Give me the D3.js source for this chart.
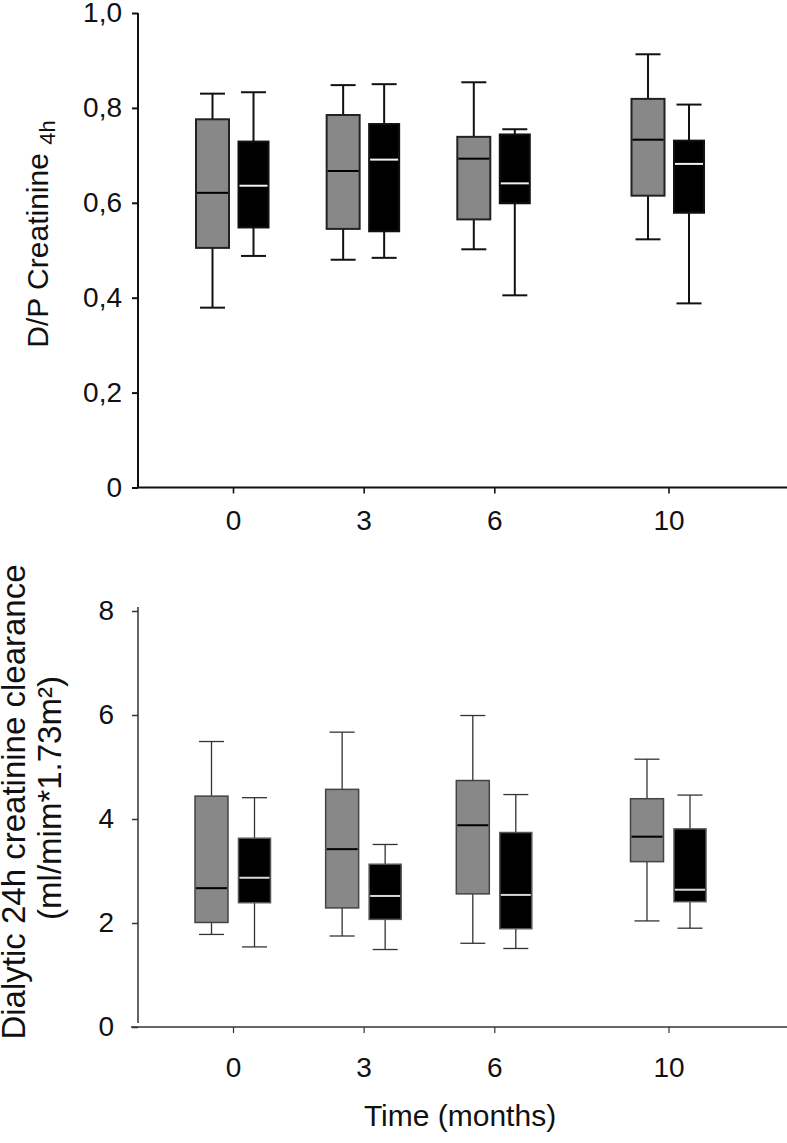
<!DOCTYPE html>
<html>
<head>
<meta charset="utf-8">
<script src="https://cdn.jsdelivr.net/npm/d3@7"></script>
<style>
  html, body { margin: 0; padding: 0; background: #fff; }
  svg { display: block; font-family: "Liberation Sans", Arial, sans-serif; }
</style>
</head>
<body>
<svg id="chart" width="787" height="1143"></svg>
<script>
// ---------------- data ----------------
const months = [0, 3, 6, 10];
const monthLabels = ["0", "3", "6", "10"];
const seriesNames = ["Group 1", "Group 2"];   // grey, black

// box stats: [min, q1, median, q3, max] per month
const dpGroup1 = [
  [0.379, 0.505, 0.621, 0.776, 0.830],
  [0.480, 0.545, 0.667, 0.785, 0.848],
  [0.502, 0.565, 0.693, 0.739, 0.854],
  [0.523, 0.615, 0.733, 0.819, 0.913]
];
const dpGroup2 = [
  [0.488, 0.548, 0.636, 0.729, 0.833],
  [0.484, 0.540, 0.691, 0.766, 0.850],
  [0.405, 0.599, 0.641, 0.744, 0.755],
  [0.388, 0.579, 0.682, 0.731, 0.807]
];
const clGroup1 = [
  [1.78, 2.01, 2.67, 4.44, 5.49],
  [1.75, 2.29, 3.42, 4.57, 5.67],
  [1.61, 2.56, 3.88, 4.74, 5.99],
  [2.04, 3.18, 3.66, 4.39, 5.15]
];
const clGroup2 = [
  [1.54, 2.39, 2.87, 3.63, 4.41],
  [1.49, 2.07, 2.52, 3.13, 3.51],
  [1.51, 1.89, 2.54, 3.74, 4.47],
  [1.90, 2.41, 2.64, 3.81, 4.46]
];
const dpTicks = [0, 0.2, 0.4, 0.6, 0.8, 1.0];
const clTicks = [0, 2, 4, 6, 8];

// ---------------- drawing ----------------
const svg = d3.select("#chart");
const commaFmt = d => d === 0 ? "0" : d3.format(".1f")(d).replace(".", ",");
const FONT = "Liberation Sans, Arial, sans-serif";

function panel(cfg) {
  const g = svg.append("g");
  const x = d3.scaleLinear().domain([0, 10]).range([233, 668.5]);
  const y = d3.scaleLinear().domain(cfg.yDomain).range([cfg.yBottom, cfg.yTop]);
  const off = d3.scaleBand().domain(seriesNames).range([-cfg.spread, cfg.spread]);

  // y axis
  const ya = g.append("g").attr("transform", `translate(${cfg.axisX},0)`)
    .call(d3.axisLeft(y).tickValues(cfg.ticks).tickFormat(cfg.fmt)
      .tickSize(6).tickPadding(cfg.yPad).tickSizeOuter(0));
  ya.select(".domain").remove();
  ya.selectAll(".tick line").attr("stroke", cfg.axisColor).attr("stroke-width", cfg.axisW);
  ya.selectAll(".tick text").attr("font-size", 28).attr("fill", "#111").attr("font-family", FONT);
  g.append("line")
    .attr("x1", cfg.axisX).attr("x2", cfg.axisX)
    .attr("y1", y(cfg.yDomain[1]) - cfg.yExtTop).attr("y2", y(0) - cfg.yGapBottom)
    .attr("stroke", cfg.axisColor).attr("stroke-width", cfg.axisW);

  // x axis
  const xa = g.append("g").attr("transform", `translate(0,${y(0)})`)
    .call(d3.axisBottom(x).tickValues(months).tickFormat((d, i) => monthLabels[i])
      .tickSize(6).tickPadding(cfg.xPad));
  xa.select(".domain").remove();
  xa.selectAll(".tick line").attr("stroke", cfg.axisColor).attr("stroke-width", cfg.tickW);
  xa.selectAll(".tick text").attr("font-size", 28).attr("fill", "#111").attr("font-family", FONT);
  g.append("line")
    .attr("x1", cfg.xLineStart).attr("x2", 787)
    .attr("y1", y(0)).attr("y2", y(0))
    .attr("stroke", cfg.axisColor).attr("stroke-width", cfg.axisW);

  // boxes
  const groups = [
    { name: seriesNames[0], data: cfg.g1, fill: "#888888", stroke: cfg.s1, med: "#000", w: cfg.w1, whisk: cfg.whisk1 },
    { name: seriesNames[1], data: cfg.g2, fill: "#000000", stroke: cfg.s2, med: cfg.med2, w: cfg.w2, whisk: cfg.whisk2 }
  ];
  const capW = 25;
  groups.forEach(grp => {
    const bx = g.append("g").selectAll("g").data(grp.data).join("g")
      .attr("transform", (d, i) => `translate(${x(months[i]) + off(grp.name) + off.bandwidth() / 2},0)`);
    bx.append("line").attr("x1", 0).attr("x2", 0)
      .attr("y1", d => y(d[3])).attr("y2", d => y(d[4]))
      .attr("stroke", grp.whisk).attr("stroke-width", cfg.lineW);
    bx.append("line").attr("x1", 0).attr("x2", 0)
      .attr("y1", d => y(d[1])).attr("y2", d => y(d[0]))
      .attr("stroke", grp.whisk).attr("stroke-width", cfg.lineW);
    bx.append("line").attr("x1", -capW / 2).attr("x2", capW / 2)
      .attr("y1", d => y(d[4])).attr("y2", d => y(d[4]))
      .attr("stroke", grp.whisk).attr("stroke-width", cfg.lineW);
    bx.append("line").attr("x1", -capW / 2).attr("x2", capW / 2)
      .attr("y1", d => y(d[0])).attr("y2", d => y(d[0]))
      .attr("stroke", grp.whisk).attr("stroke-width", cfg.lineW);
    bx.append("rect").attr("x", -grp.w / 2).attr("width", grp.w)
      .attr("y", d => y(d[3])).attr("height", d => y(d[1]) - y(d[3]))
      .attr("fill", grp.fill).attr("stroke", grp.stroke).attr("stroke-width", cfg.boxW);
    bx.append("line").attr("x1", -grp.w / 2 + 1).attr("x2", grp.w / 2 - 1)
      .attr("y1", d => y(d[2])).attr("y2", d => y(d[2]))
      .attr("stroke", grp.med).attr("stroke-width", cfg.medW);
  });
  return { g, x, y };
}

// top panel
panel({
  yDomain: [0, 1], yBottom: 487.5, yTop: 13, ticks: dpTicks, fmt: commaFmt,
  axisX: 138, yPad: 10, xPad: 17, yExtTop: 0, yGapBottom: 0, xLineStart: 138,
  axisColor: "#111", axisW: 2, tickW: 1.6, spread: 41,
  g1: dpGroup1, g2: dpGroup2, s1: "#222", s2: "#111", med2: "#f2f2f2",
  w1: 33, w2: 30, whisk1: "#111", whisk2: "#111", lineW: 2, boxW: 2, medW: 2
});

// bottom panel
panel({
  yDomain: [0, 8], yBottom: 1027, yTop: 611, ticks: clTicks, fmt: d3.format("d"),
  axisX: 138, yPad: 18, xPad: 24, yExtTop: 4, yGapBottom: 4, xLineStart: 131,
  axisColor: "#333", axisW: 1.5, tickW: 1.2, spread: 43,
  g1: clGroup1, g2: clGroup2, s1: "#444", s2: "#555", med2: "#d8d8d8",
  w1: 33, w2: 32, whisk1: "#333", whisk2: "#333", lineW: 1.3, boxW: 1.5, medW: 2
});

// axis titles
const t1 = svg.append("text")
  .attr("transform", "translate(48,234) rotate(-90)")
  .attr("text-anchor", "middle").attr("fill", "#111")
  .attr("font-size", 30);
t1.append("tspan").text("D/P Creatinine ");
t1.append("tspan").attr("font-size", 22).attr("dy", 7).text("4h");

svg.append("text")
  .attr("transform", "translate(25,802) rotate(-90)")
  .attr("text-anchor", "middle").attr("fill", "#111")
  .attr("font-size", 33)
  .text("Dialytic 24h creatinine clearance");
svg.append("text")
  .attr("transform", "translate(61,798) rotate(-90)")
  .attr("text-anchor", "middle").attr("fill", "#111")
  .attr("font-size", 33)
  .text("(ml/mim*1.73m²)");

svg.append("text")
  .attr("x", 460).attr("y", 1126)
  .attr("text-anchor", "middle").attr("fill", "#111")
  .attr("font-size", 30)
  .text("Time (months)");
</script>
</body>
</html>
